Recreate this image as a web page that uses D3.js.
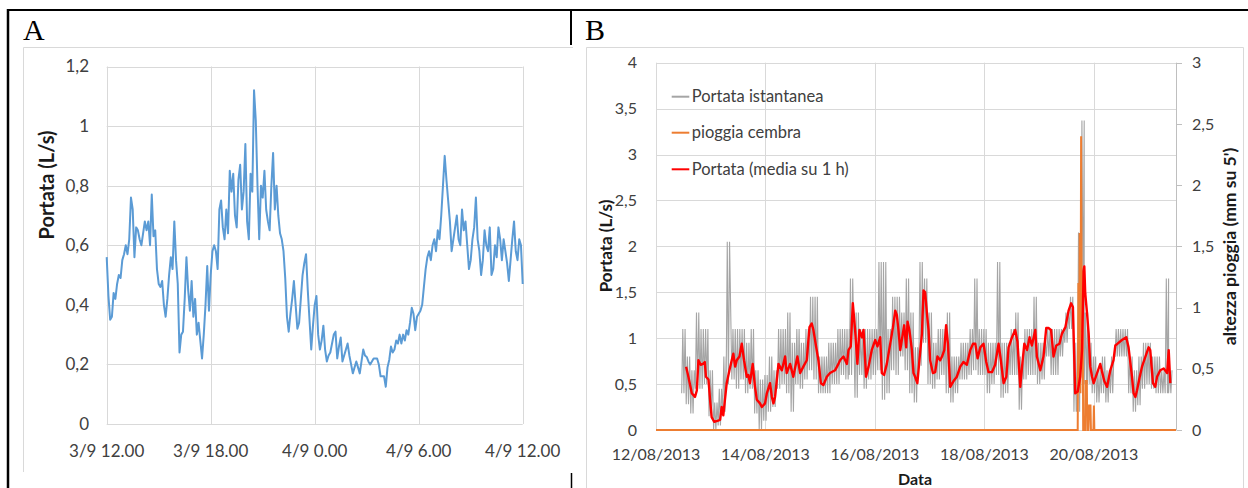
<!DOCTYPE html>
<html><head><meta charset="utf-8">
<script src="https://cdn.jsdelivr.net/npm/d3@7"></script>
<style>
html,body{margin:0;padding:0;background:#fff;}
svg{display:block;}
</style></head><body>
<svg id="c" width="1248" height="488"></svg>
<script>
// ---------------- DATA ----------------
// Panel A: flow (L/s), one value every 6 minutes from 3/9 12.00 to 4/9 12.00
const panelAStart = new Date(2013, 8, 3, 12, 0);
const panelAStepMinutes = 6;
const flowA = [
  0.56,0.43,0.35,0.36,0.44,0.42,0.47,0.50,0.49,0.55,
  0.57,0.60,0.57,0.62,0.76,0.72,0.56,0.66,0.65,0.62,
  0.60,0.64,0.68,0.65,0.68,0.60,0.77,0.63,0.65,0.52,
  0.47,0.46,0.48,0.40,0.36,0.42,0.50,0.56,0.52,0.68,
  0.55,0.47,0.24,0.30,0.31,0.42,0.56,0.45,0.38,0.48,
  0.36,0.42,0.30,0.34,0.28,0.22,0.30,0.40,0.53,0.38,
  0.50,0.58,0.60,0.58,0.52,0.72,0.75,0.66,0.62,0.72,
  0.64,0.85,0.78,0.84,0.70,0.66,0.82,0.87,0.72,0.78,
  0.94,0.68,0.62,0.84,0.78,1.12,1.02,0.80,0.62,0.80,
  0.76,0.85,0.72,0.68,0.65,0.80,0.91,0.72,0.80,0.70,
  0.64,0.62,0.58,0.49,0.36,0.31,0.37,0.42,0.48,0.40,
  0.32,0.34,0.42,0.50,0.54,0.57,0.45,0.35,0.25,0.33,
  0.40,0.43,0.30,0.25,0.28,0.33,0.25,0.21,0.23,0.24,
  0.27,0.30,0.31,0.22,0.26,0.29,0.21,0.23,0.25,0.27,
  0.23,0.20,0.17,0.19,0.21,0.19,0.17,0.21,0.25,0.23,
  0.225,0.21,0.20,0.21,0.22,0.22,0.22,0.20,0.16,0.16,
  0.16,0.125,0.19,0.215,0.26,0.24,0.25,0.28,0.27,0.30,
  0.27,0.30,0.28,0.315,0.30,0.34,0.39,0.37,0.315,0.36,
  0.37,0.38,0.40,0.46,0.52,0.56,0.58,0.55,0.60,0.62,
  0.58,0.65,0.62,0.70,0.80,0.90,0.82,0.75,0.68,0.58,
  0.62,0.66,0.70,0.62,0.60,0.72,0.65,0.68,0.60,0.52,
  0.55,0.62,0.66,0.76,0.62,0.58,0.50,0.55,0.65,0.60,
  0.58,0.66,0.50,0.52,0.60,0.56,0.66,0.62,0.55,0.62,
  0.58,0.54,0.48,0.55,0.62,0.68,0.58,0.55,0.62,0.60,
  0.47
];
const panelAXTicks = [new Date(2013,8,3,12), new Date(2013,8,3,18), new Date(2013,8,4,0), new Date(2013,8,4,6), new Date(2013,8,4,12)];
const panelAYTicks = [0, 0.2, 0.4, 0.6, 0.8, 1, 1.2];

// Panel B: hours counted from 12/08/2013 00.00
const panelBStart = new Date(2013, 7, 12, 0, 0);
const panelBEndHours = 228;
// Portata istantanea: [hour, low, high] envelope of the 5-minute trace
const greyBand = [
  [12,0.40,1.10],[14,0.28,0.80],[16,0.18,0.65],[18,0.45,1.28],[20,0.45,1.10],[22,0.50,1.10],[24,0.15,0.65],[26,0.00,0.30],
  [28,0.05,0.45],[30,0.20,0.80],[31.5,0.50,2.05],[34,0.55,1.10],[36,0.45,1.10],[38,0.55,1.10],[40,0.40,0.95],[42,0.45,1.10],
  [44,0.18,0.65],[46,0.00,0.55],[48,0.10,0.60],[50,0.20,0.80],[52,0.25,0.65],[54,0.45,1.10],[56,0.50,1.10],[58,0.40,1.28],
  [60,0.20,0.95],[62,0.50,1.10],[64,0.45,0.95],[66,0.55,1.10],[68,0.65,1.45],[70,0.55,1.45],[72,0.40,0.80],[74,0.40,0.80],
  [76,0.40,0.95],[78,0.50,0.95],[80,0.50,1.10],[82,0.60,1.10],[84,0.55,1.10],[85.5,0.60,1.65],[88,0.35,1.28],[90,0.60,1.10],
  [92,0.45,1.10],[94,0.55,1.10],[96,0.60,1.10],[98,0.65,1.83],[100,0.33,1.83],[102,0.40,1.10],[104,0.65,1.45],[106,0.60,1.45],
  [108,0.80,1.28],[110,0.65,1.65],[112,0.40,1.28],[114,0.30,0.90],[116,0.70,1.83],[118,0.95,1.65],[120,0.50,1.28],[122,0.45,0.95],
  [124,0.55,1.10],[126,0.60,1.10],[128,0.40,1.28],[130,0.30,0.80],[132,0.40,0.80],[134,0.55,0.95],[136,0.55,0.95],[138,0.60,1.10],
  [140,0.65,1.65],[142,0.60,1.10],[144,0.60,1.10],[146,0.40,0.95],[148,0.50,0.95],[150,0.60,1.83],[152,0.35,0.95],[154,0.40,0.95],
  [156,0.60,1.10],[158,0.60,1.28],[160,0.22,0.80],[162,0.55,1.10],[164,0.60,1.10],[166,0.60,1.45],[168,0.50,0.95],[170,0.55,0.95],
  [172,0.80,1.10],[174,0.60,1.10],[176,0.60,1.10],[178,0.80,1.10],[180,0.95,1.28],[182,1.10,1.45],[184,0.20,0.95],[185.5,0.20,2.15],
  [187,1.30,3.37],[188.5,0.50,1.28],[190,0.50,0.95],[192,0.40,0.80],[194,0.30,0.65],[196,0.40,0.80],[198,0.30,0.65],[200,0.40,0.80],
  [202,0.80,1.10],[204,0.80,1.10],[206,0.80,1.10],[208,0.40,0.80],[210,0.20,0.65],[212,0.27,0.80],[214,0.45,0.95],[216,0.50,0.95],
  [218,0.45,0.80],[220,0.40,0.80],[222,0.40,0.65],[224,0.40,1.65],[225.5,0.40,0.65]
];
// Portata (media su 1 h): [hour, L/s]
const redPoints = [
  [13.2,0.69],[14.2,0.58],[15.7,0.40],[17.1,0.36],[17.9,0.43],[18.6,0.76],[19.6,0.71],[20.6,0.72],[21.4,0.74],[21.9,0.58],
  [23.0,0.55],[23.7,0.33],[24.4,0.14],[25.5,0.09],[26.9,0.10],[28.1,0.11],[28.8,0.25],[29.5,0.16],[31.0,0.51],[32.2,0.65],
  [33.2,0.76],[33.9,0.83],[34.7,0.69],[35.4,0.76],[36.6,0.80],[37.6,0.94],[38.6,0.76],[39.8,0.58],[40.5,0.60],[41.2,0.51],
  [42.4,0.72],[43.4,0.47],[44.2,0.33],[45.6,0.29],[46.4,0.25],[47.8,0.29],[48.6,0.40],[50.0,0.51],[50.8,0.36],[51.5,0.29],
  [52.2,0.36],[53.7,0.72],[55.2,0.65],[56.6,0.80],[57.3,0.62],[58.8,0.72],[60.2,0.58],[62.0,0.80],[63.2,0.62],[64.6,0.69],
  [66.1,0.76],[67.3,1.12],[68.3,1.16],[69.0,1.09],[70.2,0.91],[71.2,0.76],[72.3,0.51],[73.4,0.49],[74.9,0.58],[76.3,0.62],
  [78.5,0.65],[80.0,0.72],[80.7,0.76],[82.2,0.80],[83.7,0.72],[84.4,0.87],[85.4,0.91],[86.3,1.38],[87.3,1.09],[88.3,0.72],
  [89.2,1.09],[90.3,1.01],[91.0,1.09],[92.1,0.58],[93.2,0.69],[94.6,0.87],[96.1,0.98],[97.1,0.91],[98.3,1.01],[99.0,0.62],
  [100.0,0.60],[101.2,0.72],[102.7,0.94],[103.9,1.12],[104.9,1.30],[105.6,1.25],[106.3,1.09],[107.1,0.87],[108.1,1.03],[108.8,1.14],
  [109.7,0.90],[110.3,1.18],[111.1,1.09],[112.2,0.87],[112.9,0.62],[113.6,0.58],[114.6,0.51],[115.5,0.76],[116.6,1.05],[117.3,1.52],
  [118.0,1.50],[118.8,1.27],[119.5,1.09],[120.2,0.76],[121.4,0.62],[122.4,0.63],[123.4,0.80],[124.6,0.76],[125.4,0.80],[126.4,0.87],
  [127.2,1.14],[128.0,0.94],[129.0,0.47],[130.4,0.53],[131.9,0.58],[133.4,0.69],[134.8,0.74],[136.3,0.71],[137.8,0.87],[139.0,0.94],
  [140.0,0.94],[141.0,0.78],[142.2,0.90],[143.6,0.94],[144.8,0.74],[145.8,0.63],[147.3,0.63],[148.7,0.71],[150.2,0.94],[151.2,0.76],
  [152.4,0.51],[153.6,0.58],[154.6,0.90],[156.1,1.01],[157.5,1.09],[158.5,0.96],[159.7,0.47],[160.5,0.69],[161.5,0.94],[162.7,0.87],
  [163.8,1.01],[164.8,0.92],[166.3,1.09],[167.0,0.80],[168.5,0.65],[169.9,0.80],[171.1,1.11],[172.1,1.11],[173.2,1.09],[174.3,0.80],
  [175.5,0.92],[176.9,0.94],[178.0,1.05],[179.5,1.12],[180.9,1.30],[182.0,1.38],[182.8,1.34],[183.8,0.40],[184.9,0.42],[186.0,0.58],
  [186.8,0.87],[187.5,1.74],[187.8,1.78],[188.2,1.49],[189.0,1.27],[189.7,1.05],[190.4,0.69],[191.2,0.58],[191.9,0.51],[193.4,0.62],
  [194.8,0.72],[195.6,0.63],[196.6,0.53],[197.8,0.47],[199.2,0.65],[200.6,0.76],[201.4,0.92],[202.4,0.94],[204.3,0.98],[206.2,1.01],
  [207.2,0.90],[208.7,0.58],[209.4,0.40],[210.2,0.36],[210.9,0.43],[212.1,0.58],[213.1,0.69],[214.6,0.80],[216.0,0.90],[216.7,0.87],
  [217.9,0.51],[218.9,0.47],[219.7,0.58],[221.1,0.65],[222.6,0.67],[224.1,0.62],[224.8,0.87],[225.5,0.51]
];
// pioggia cembra (mm su 5'): [hour, mm]
const rainPoints = [
  [0,0],[184.9,0],[185.2,1.2],[185.5,0.4],[185.8,1.61],[186.1,0.3],[186.4,2.40],[186.7,0.8],[187.0,1.3],[187.3,0],
  [188.1,0],[188.3,0.40],[188.9,0.40],[189.1,0],[189.6,0],[189.9,0.20],[190.5,0.20],[190.7,0],[191.8,0],[192.0,0.20],[192.2,0],[228,0]
];
const panelBLeftTicks = [0,0.5,1,1.5,2,2.5,3,3.5,4];
const panelBRightTicks = [0,0.5,1,1.5,2,2.5,3];
const panelBDateTicks = [new Date(2013,7,12), new Date(2013,7,14), new Date(2013,7,16), new Date(2013,7,18), new Date(2013,7,20)];
const legendLabels = ["Portata istantanea", "pioggia cembra", "Portata (media su 1 h)"];
const seriesColors = ["#a5a5a5", "#ed7d31", "#ff0000"];

// ---------------- DRAWING ----------------
const SANS = "Lato, 'Open Sans', 'DejaVu Sans', sans-serif";
const SERIF = "'Liberation Serif', 'DejaVu Serif', serif";
const GRID = "#d9d9d9";
const TICKC = "#404040";
const TITLEC = "#1a1a1a";
const itLocale = d3.formatLocale({decimal: ",", thousands: ".", grouping: [3], currency: ["€", ""]});
const numFmt = itLocale.format(".1~f");

const svg = d3.select("#c");
const hourToDate = h => new Date(panelBStart.getTime() + h * 3600000);

// outer black frame
svg.append("line").attr("x1", 8).attr("x2", 1248).attr("y1", 10).attr("y2", 10).attr("stroke", "#000").attr("stroke-width", 2);
svg.append("line").attr("x1", 8).attr("x2", 8).attr("y1", 9).attr("y2", 488).attr("stroke", "#000").attr("stroke-width", 2.5);
svg.append("line").attr("x1", 571).attr("x2", 571).attr("y1", 10).attr("y2", 45).attr("stroke", "#000").attr("stroke-width", 2);
svg.append("line").attr("x1", 571.5).attr("x2", 571.5).attr("y1", 473).attr("y2", 488).attr("stroke", "#000").attr("stroke-width", 1.5);

// panel letters
svg.append("text").attr("x", 23).attr("y", 40).text("A").attr("font-family", SERIF).attr("font-size", 30).attr("fill", "#000");
svg.append("text").attr("x", 585).attr("y", 40).text("B").attr("font-family", SERIF).attr("font-size", 30).attr("fill", "#000");

// chart frames
svg.append("path").attr("d", "M23.5,472 V47.5 H573").attr("fill", "none").attr("stroke", "#d9d9d9").attr("stroke-width", 1);
svg.append("path").attr("d", "M586.5,488 V47.5 H1243.5 V488").attr("fill", "none").attr("stroke", "#d9d9d9").attr("stroke-width", 1);

// ---------- Panel A ----------
const gA = svg.append("g");
const timesA = flowA.map((v, i) => new Date(panelAStart.getTime() + i * panelAStepMinutes * 60000));
const xA = d3.scaleTime().domain([panelAXTicks[0], panelAXTicks[panelAXTicks.length - 1]]).range([106.7, 522.7]);
const yA = d3.scaleLinear().domain([0, 1.2]).range([424, 66.5]);

gA.selectAll("line.hg").data(panelAYTicks).join("line")
  .attr("x1", xA.range()[0]).attr("x2", xA.range()[1])
  .attr("y1", d => Math.round(yA(d)) + 0.5).attr("y2", d => Math.round(yA(d)) + 0.5)
  .attr("stroke", GRID).attr("stroke-width", 1);
gA.selectAll("line.vg").data(panelAXTicks).join("line")
  .attr("x1", d => Math.round(xA(d)) + 0.5).attr("x2", d => Math.round(xA(d)) + 0.5)
  .attr("y1", yA(1.2)).attr("y2", yA(0))
  .attr("stroke", GRID).attr("stroke-width", 1);

gA.append("path").datum(flowA)
  .attr("d", d3.line().x((d, i) => xA(timesA[i])).y(d => yA(d)))
  .attr("fill", "none").attr("stroke", "#5b9bd5").attr("stroke-width", 2).attr("stroke-linejoin", "round");

gA.selectAll("text.yt").data(panelAYTicks).join("text")
  .attr("x", 89).attr("y", d => yA(d)).attr("dy", "0.35em").attr("text-anchor", "end")
  .attr("font-family", SANS).attr("font-size", 17).attr("fill", TICKC).text(d => numFmt(d));
const fmtA = d3.timeFormat("%-d/%-m %-H.%M");
gA.selectAll("text.xt").data(panelAXTicks).join("text")
  .attr("x", d => xA(d)).attr("y", 457).attr("text-anchor", "middle")
  .attr("font-family", SANS).attr("font-size", 17).attr("fill", TICKC).text(d => fmtA(d));
gA.append("text").attr("transform", "translate(47,185) rotate(-90)")
  .attr("text-anchor", "middle").attr("dy", "0.35em")
  .attr("font-family", SANS).attr("font-weight", "bold").attr("font-size", 20).attr("fill", TITLEC)
  .text("Portata (L/s)");

// ---------- Panel B ----------
const gB = svg.append("g");
const xB = d3.scaleTime().domain([panelBStart, hourToDate(panelBEndHours)]).range([656, 1176]);
const yB = d3.scaleLinear().domain([0, 4]).range([430, 62.7]);
const yR = d3.scaleLinear().domain([0, 3]).range([430, 62.7]);

gB.selectAll("line.hg").data(panelBLeftTicks).join("line")
  .attr("x1", xB.range()[0]).attr("x2", xB.range()[1])
  .attr("y1", d => Math.round(yB(d)) + 0.5).attr("y2", d => Math.round(yB(d)) + 0.5)
  .attr("stroke", GRID).attr("stroke-width", 1);
gB.selectAll("line.vg").data(panelBDateTicks).join("line")
  .attr("x1", d => Math.round(xB(d)) + 0.5).attr("x2", d => Math.round(xB(d)) + 0.5)
  .attr("y1", yB(4)).attr("y2", yB(0))
  .attr("stroke", GRID).attr("stroke-width", 1);
// right axis
gB.append("line").attr("x1", 1176.5).attr("x2", 1176.5).attr("y1", yR(3)).attr("y2", yR(0)).attr("stroke", "#bfbfbf");
gB.selectAll("line.rt").data(panelBRightTicks).join("line")
  .attr("x1", 1176.5).attr("x2", 1182).attr("y1", d => Math.round(yR(d)) + 0.5).attr("y2", d => Math.round(yR(d)) + 0.5)
  .attr("stroke", "#bfbfbf");

// grey trace: dense zigzag between the low and high envelope of each 2-hour step
const greyPts = [];
greyBand.forEach(([h, lo, hi]) => {
  greyPts.push([h - 0.75, lo]); greyPts.push([h - 0.25, hi]);
  greyPts.push([h + 0.25, lo]); greyPts.push([h + 0.75, hi]);
});
gB.append("path").datum(greyPts)
  .attr("d", d3.line().x(d => xB(hourToDate(d[0]))).y(d => yB(d[1])))
  .attr("fill", "none").attr("stroke", seriesColors[0]).attr("stroke-width", 1.1).attr("stroke-linejoin", "miter");
// rain
gB.append("path").datum(rainPoints)
  .attr("d", d3.line().x(d => xB(hourToDate(d[0]))).y(d => yR(d[1])))
  .attr("fill", "none").attr("stroke", seriesColors[1]).attr("stroke-width", 2);
// red
gB.append("path").datum(redPoints)
  .attr("d", d3.line().x(d => xB(hourToDate(d[0]))).y(d => yB(d[1])))
  .attr("fill", "none").attr("stroke", seriesColors[2]).attr("stroke-width", 2.4).attr("stroke-linejoin", "round");

// tick labels
gB.selectAll("text.yl").data(panelBLeftTicks).join("text")
  .attr("x", 637).attr("y", d => yB(d)).attr("dy", "0.35em").attr("text-anchor", "end")
  .attr("font-family", SANS).attr("font-size", 16).attr("fill", TICKC).text(d => numFmt(d));
gB.selectAll("text.yr").data(panelBRightTicks).join("text")
  .attr("x", 1192).attr("y", d => yR(d)).attr("dy", "0.35em").attr("text-anchor", "start")
  .attr("font-family", SANS).attr("font-size", 16).attr("fill", TICKC).text(d => numFmt(d));
const fmtB = d3.timeFormat("%d/%m/%Y");
gB.selectAll("text.xl").data(panelBDateTicks).join("text")
  .attr("x", d => xB(d)).attr("y", 460).attr("text-anchor", "middle")
  .attr("font-family", SANS).attr("font-size", 16).attr("fill", TICKC).text(d => fmtB(d));

// titles
gB.append("text").attr("transform", "translate(606,246) rotate(-90)")
  .attr("text-anchor", "middle").attr("dy", "0.35em")
  .attr("font-family", SANS).attr("font-weight", "bold").attr("font-size", 17).attr("fill", TITLEC)
  .text("Portata (L/s)");
gB.append("text").attr("transform", "translate(1230,246.5) rotate(-90)")
  .attr("text-anchor", "middle").attr("dy", "0.35em")
  .attr("font-family", SANS).attr("font-weight", "bold").attr("font-size", 17.5).attr("fill", TITLEC)
  .text("altezza pioggia (mm su 5')");
gB.append("text").attr("x", 915).attr("y", 485).attr("text-anchor", "middle")
  .attr("font-family", SANS).attr("font-weight", "bold").attr("font-size", 16).attr("fill", TITLEC)
  .text("Data");

// legend
const legY = [96.7, 132.7, 169.3];
const leg = gB.selectAll("g.leg").data(legendLabels).join("g")
  .attr("transform", (d, i) => `translate(671.7,${legY[i]})`);
leg.append("line").attr("x1", 0).attr("x2", 17.6).attr("y1", 0).attr("y2", 0)
  .attr("stroke", (d, i) => seriesColors[i]).attr("stroke-width", 2);
leg.append("text").attr("x", 20).attr("dy", "0.35em")
  .attr("font-family", SANS).attr("font-size", 16.5).attr("fill", TICKC).text(d => d);
</script>
</body></html>
